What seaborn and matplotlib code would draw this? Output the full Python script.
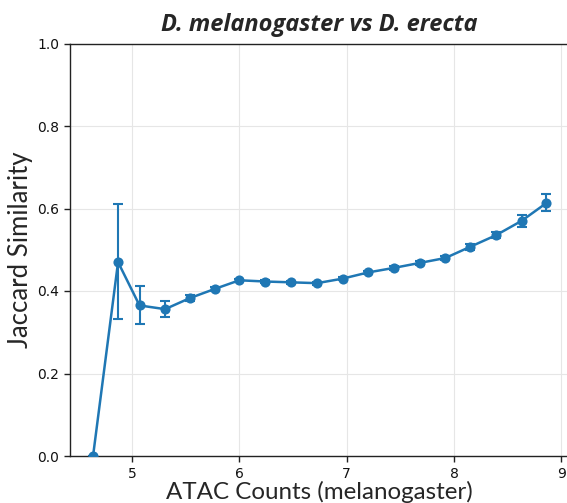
import matplotlib
matplotlib.use("Agg")
import matplotlib.pyplot as plt
import numpy as np
import pandas as pd
import seaborn as sns

# Mean log ATAC counts per bin (melanogaster) and Jaccard similarity with erecta
atac_counts = [4.637, 4.870, 5.070, 5.308, 5.541, 5.771, 6.000, 6.240, 6.485, 6.724,
               6.963, 7.200, 7.440, 7.680, 7.920, 8.150, 8.390, 8.630, 8.860]
jaccard = [0.000, 0.470, 0.365, 0.356, 0.383, 0.405, 0.426, 0.423, 0.421, 0.419,
           0.430, 0.445, 0.456, 0.468, 0.480, 0.507, 0.535, 0.570, 0.613]
err_low = [0.000, 0.138, 0.046, 0.018, 0.008, 0.005, 0.004, 0.004, 0.004, 0.004,
           0.004, 0.004, 0.004, 0.005, 0.005, 0.007, 0.007, 0.014, 0.020]
err_high = [0.000, 0.141, 0.046, 0.019, 0.008, 0.005, 0.004, 0.004, 0.004, 0.004,
            0.004, 0.004, 0.004, 0.005, 0.005, 0.007, 0.007, 0.015, 0.022]

x_ticks = [5, 6, 7, 8, 9]
y_ticks = [0.0, 0.2, 0.4, 0.6, 0.8, 1.0]

df = pd.DataFrame({"atac": atac_counts, "jaccard": jaccard})

sns.set_theme(style="ticks")
plt.rcParams["font.family"] = ["DejaVu Sans"]
plt.rcParams["font.sans-serif"] = ["DejaVu Sans"]

color = "#1f77b4"
fig = plt.figure(figsize=(5.67, 5.03), dpi=100)
ax = fig.add_axes([70.3 / 567, 47 / 503, (568.8 - 70.3) / 567, 412.5 / 503])

ax.errorbar(df["atac"], df["jaccard"], yerr=[err_low, err_high], fmt="none",
            ecolor=color, elinewidth=1.5, capsize=3.5, capthick=1.5, zorder=2)
sns.lineplot(data=df, x="atac", y="jaccard", ax=ax, color=color, marker="o",
             markersize=7.3, markeredgewidth=0, linewidth=1.8, zorder=3)

ax.set_xlim(4.425, 9.07)
ax.set_ylim(0, 1)
ax.set_xticks(x_ticks)
ax.set_yticks(y_ticks)
ax.set_xticklabels([str(v) for v in x_ticks], family="DejaVu Sans")
ax.set_yticklabels([f"{v:.1f}" for v in y_ticks], family="DejaVu Sans")
ax.grid(True, color="#e6e6e6", linewidth=0.8)
ax.set_axisbelow(True)
for s in ax.spines.values():
    s.set_color("#222222")
    s.set_linewidth(1.0)
ax.tick_params(axis="both", labelsize=10, length=4, width=1, color="#222222",
               pad=4, labelcolor="#111111")

ax.set_xlabel("ATAC Counts (melanogaster)", family="Lato", fontsize=17.4, labelpad=0)
ax.set_ylabel("Jaccard Similarity", family="Lato", fontsize=18.5, labelpad=3)
ax.set_title("D. melanogaster vs D. erecta", family="Open Sans", fontweight="bold",
             fontstyle="italic", fontsize=17, pad=9)

fig.savefig("out.png", dpi=100)
